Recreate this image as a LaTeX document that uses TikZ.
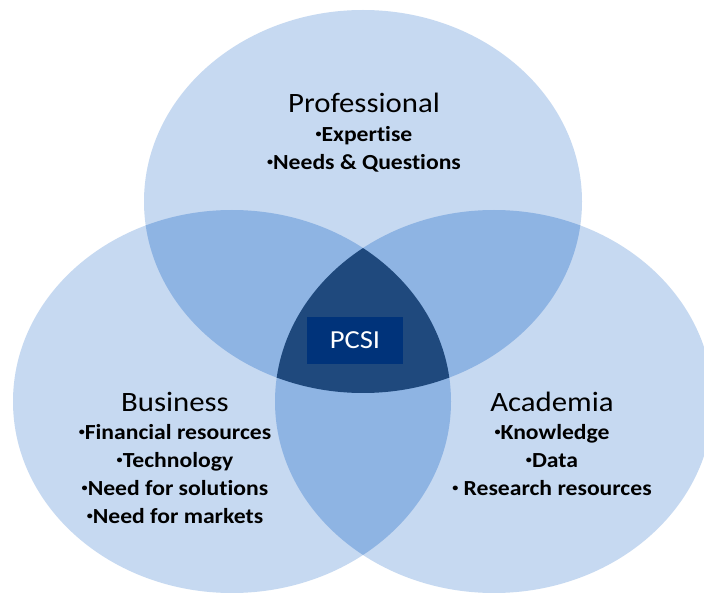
\documentclass[tikz,border=0pt]{standalone}
\usepackage{fontspec}
\setmainfont{Carlito}[FakeStretch=1.1, Ligatures={NoCommon}]
\usepackage{tikz}
\usetikzlibrary{positioning}

\definecolor{circlelight}{HTML}{C6D9F1}
\definecolor{circlemid}{HTML}{8EB4E3}
\definecolor{circledark}{HTML}{1F497D}
\definecolor{boxblue}{HTML}{00337A}

% small raised bullet
\newcommand{\itemdot}{\raisebox{0.4ex}{\fontsize{11}{11}\selectfont\textbullet}}

\begin{document}
\begin{tikzpicture}[
  x=1pt, y=-1pt,
  node distance=9.5pt,
  venn/.style={x radius=219pt, y radius=191.5pt},
  heading/.style={font=\fontsize{28}{28}\selectfont, inner sep=0pt, text height=20pt, text depth=6pt},
  item/.style={font=\bfseries\fontsize{21.5}{21.5}\selectfont, inner sep=0pt, text height=13pt, text depth=5pt},
  core/.style={fill=boxblue, text=white, font=\fontsize{26}{26}\selectfont, minimum width=96pt, minimum height=47pt, inner sep=0pt}
]
\clip (0,0) rectangle (704,593);
\fill[white] (0,0) rectangle (704,593);

% Circle centres
\coordinate (ctop) at (363,201.5);
\coordinate (cleft) at (232,401.5);
\coordinate (cright) at (494,401.5);

% Single circles
\fill[circlelight] (ctop) ellipse [venn];
\fill[circlelight] (cleft) ellipse [venn];
\fill[circlelight] (cright) ellipse [venn];

% Pairwise overlaps
\begin{scope}
  \clip (ctop) ellipse [venn];
  \fill[circlemid] (cleft) ellipse [venn];
  \fill[circlemid] (cright) ellipse [venn];
\end{scope}
\begin{scope}
  \clip (cleft) ellipse [venn];
  \fill[circlemid] (cright) ellipse [venn];
\end{scope}

% Triple overlap
\begin{scope}
  \clip (ctop) ellipse [venn];
  \clip (cleft) ellipse [venn];
  \fill[circledark] (cright) ellipse [venn];
\end{scope}

\node[core] (pcsi) at (355,340.5) {PCSI};

% Professional
\node[heading, anchor=base] (prof) at (364,113) {Professional};
\node[item, below=of prof] (expert) {\itemdot Expertise};
\node[item, below=of expert] (needs) {\itemdot Needs \& Questions};

% Business
\node[heading, anchor=base] (bus) at (175,411) {Business};
\node[item, below=of bus] (fin) {\itemdot Financial resources};
\node[item, below=of fin] (tech) {\itemdot Technology};
\node[item, below=of tech] (sol) {\itemdot Need for solutions};
\node[item, below=of sol] (mark) {\itemdot Need for markets};

% Academia
\node[heading, anchor=base] (acad) at (552,411) {Academia};
\node[item, below=of acad] (know) {\itemdot Knowledge};
\node[item, below=of know] (data) {\itemdot Data};
\node[item, below=of data] (res) {\itemdot{} Research resources};

\end{tikzpicture}
\end{document}
